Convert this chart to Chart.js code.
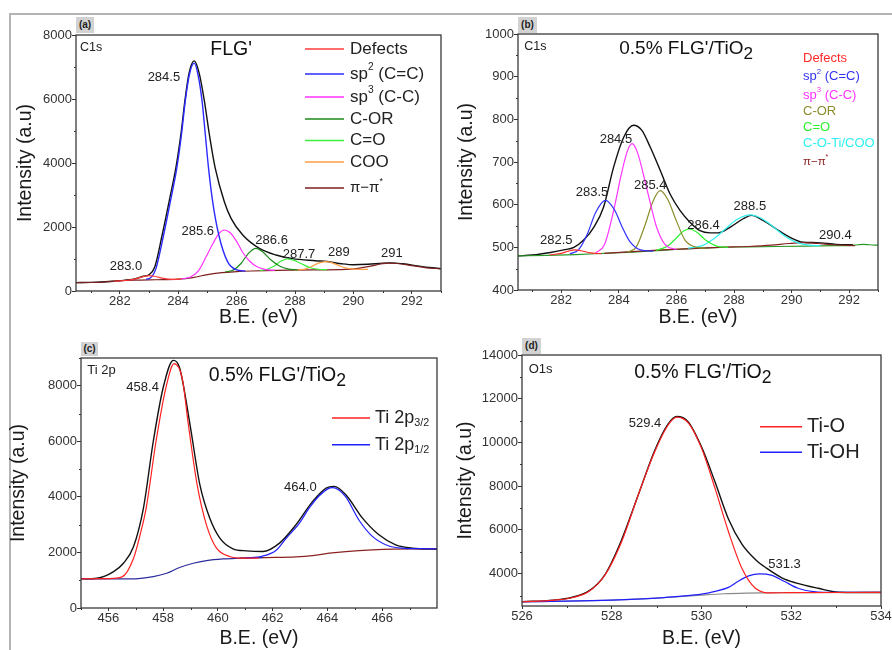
<!DOCTYPE html>
<html>
<head>
<meta charset="utf-8">
<script src="https://cdn.jsdelivr.net/npm/chart.js@4.4.1/dist/chart.umd.min.js"></script>
<style>
  body { margin: 0; background: #fff; width: 892px; height: 650px; overflow: hidden; position: relative; }
  canvas { position: absolute; }
  .frame { position: absolute; left: 9px; top: 13px; width: 900px; height: 700px;
           border-top: 2px solid #b4b4b4; border-left: 2px solid #b4b4b4; }
  .tag { position: absolute; background: #d2d2d2; color: #222; text-align: center;
         font: bold 10px "Liberation Sans", Arial, sans-serif; line-height: 16px; z-index: 2; }
</style>
</head>
<body>
<div class="frame"></div>
<canvas id="ca" width="446" height="330" style="left:0;top:0"></canvas>
<canvas id="cb" width="446" height="330" style="left:446px;top:0"></canvas>
<canvas id="cc" width="446" height="320" style="left:0;top:330px"></canvas>
<canvas id="cd" width="446" height="320" style="left:446px;top:330px"></canvas>
<div class="tag" style="left:76px;top:17px;width:18px;height:16px">(a)</div>
<div class="tag" style="left:518px;top:17px;width:19px;height:16px">(b)</div>
<div class="tag" style="left:81px;top:342px;width:17px;height:14px;line-height:14px">(c)</div>
<div class="tag" style="left:522px;top:338px;width:19px;height:16px">(d)</div>
<script>
// ---- ticks ----
const xTicksC1s = [282, 284, 286, 288, 290, 292];
const xMinorC1s = [281, 283, 285, 287, 289, 291, 293];
const yTicksA = [0, 2000, 4000, 6000, 8000];
const yMinorA = [1000, 3000, 5000, 7000];
const yTicksB = [400, 500, 600, 700, 800, 900, 1000];
const yMinorB = [450, 550, 650, 750, 850, 950];
const xTicksTi = [456, 458, 460, 462, 464, 466];
const xMinorTi = [455, 457, 459, 461, 463, 465, 467];
const yTicksC = [0, 2000, 4000, 6000, 8000];
const yMinorC = [1000, 3000, 5000, 7000, 9000];
const xTicksO = [526, 528, 530, 532, 534];
const xMinorO = [527, 529, 531, 533];
const yTicksD = [4000, 6000, 8000, 10000, 12000, 14000];
const yMinorD = [3000, 5000, 7000, 9000, 11000, 13000];

// ---- (a) C1s FLG' : [B.E., intensity] ----
const aDefects = [[281.8,305],[282.2,328],[282.5,370],[282.8,450],[283.0,480],[283.2,460],[283.5,395],[283.8,365],[284.1,380]];
const aSp2 = [[282.9,360],[283.1,450],[283.24,708],[283.5,1750],[283.73,2790],[283.95,3830],[284.11,4875],[284.24,5917],[284.38,6750],[284.55,7120],[284.68,6750],[284.82,5917],[284.93,4875],[285.04,3830],[285.18,2790],[285.39,1750],[285.69,917],[286.0,660],[286.3,625]];
const aSp3 = [[284.1,380],[284.4,430],[284.7,640],[284.95,1060],[285.2,1500],[285.4,1800],[285.58,1906],[285.78,1820],[286.0,1550],[286.2,1220],[286.45,930],[286.7,760],[287.0,670],[287.3,645]];
const aCOR = [[285.6,595],[285.9,660],[286.15,860],[286.4,1170],[286.66,1333],[286.9,1220],[287.15,990],[287.45,790],[287.75,690],[288.1,658]];
const aCO = [[286.8,640],[287.05,680],[287.3,790],[287.5,920],[287.72,1000],[287.95,965],[288.2,860],[288.5,735],[288.8,680],[289.1,665]];
const aCOO = [[288.0,653],[288.3,675],[288.55,760],[288.8,870],[289.03,918],[289.28,880],[289.55,775],[289.85,700],[290.2,676],[290.5,675]];
const aPi = [[280.5,260],[281,265],[281.5,285],[282,320],[282.5,340],[283,350],[283.5,355],[284,370],[284.5,420],[285,510],[285.5,575],[286,605],[286.5,625],[287,638],[288,652],[289,662],[289.5,668],[290,690],[290.5,760],[291,855],[291.2,872],[291.5,860],[292,795],[292.5,725],[293,695]];
const aEnvelope = [[280.5,262],[281,268],[281.5,288],[282,322],[282.5,375],[282.8,460],[283.0,510],[283.2,760],[283.45,1750],[283.7,2850],[283.93,3900],[284.1,4950],[284.23,5950],[284.37,6800],[284.55,7190],[284.72,6800],[284.9,5917],[285.07,4875],[285.27,3830],[285.58,2790],[285.81,2270],[286.21,1750],[286.78,1333],[287.35,1125],[287.9,1010],[288.7,945],[289.1,920],[289.6,850],[290.0,820],[290.5,835],[291.0,870],[291.3,880],[291.7,850],[292.2,785],[292.6,735],[293,700]];

// ---- (b) C1s 0.5% FLG'/TiO2 ----
const bDefects = [[281.6,482],[282.0,486],[282.25,491],[282.45,494],[282.7,492],[283.0,487],[283.4,485]];
const bSp2 = [[282.3,485],[282.6,494],[282.9,530],[283.2,582],[283.53,610],[283.85,588],[284.1,550],[284.4,512],[284.75,494],[285.2,491]];
const bSp3 = [[283.2,487],[283.5,506],[283.8,580],[284.1,675],[284.3,726],[284.46,743],[284.65,722],[285.0,630],[285.3,550],[285.6,507],[286.0,495]];
const bCOR = [[284.3,489],[284.6,500],[284.9,550],[285.2,610],[285.44,633],[285.7,612],[286.0,562],[286.3,517],[286.7,500],[287.0,498]];
const bCO = [[285.3,493],[285.7,503],[286.0,522],[286.25,538],[286.44,543],[286.7,536],[287.0,518],[287.4,503],[287.8,500]];
const bCOTi = [[286.4,498],[286.9,504],[287.3,520],[287.7,543],[288.1,565],[288.55,576],[289.0,566],[289.4,546],[289.8,525],[290.2,511],[290.6,505],[291.0,504]];
const bPi = [[283.5,486],[285.5,494],[287.5,500],[288.5,502],[289.3,505],[289.9,509],[290.4,511],[290.9,509],[291.5,506],[292.2,504]];
const bBackground = [[280.5,480],[281.5,481],[282.5,483],[283.5,486],[284.5,489],[285.5,493],[286.5,497],[287.5,500],[288.5,501],[289.5,502],[290.5,503],[291.5,504],[292,504],[292.3,506],[292.5,507],[292.7,506],[293,505]];
const bEnvelope = [[280.5,480],[281.0,482],[281.63,488],[282.09,494],[282.44,500],[282.78,517],[283.13,547],[283.47,594],[283.82,688],[284.17,758],[284.51,786],[284.8,774],[285.09,735],[285.44,680],[285.78,625],[286.13,586],[286.47,559],[286.82,539],[287.17,534],[287.46,534],[287.86,547],[288.32,567],[288.61,575],[289.01,563],[289.47,543],[289.93,524],[290.4,512],[290.86,511],[291.55,507],[292.13,506]];

// ---- (c) Ti 2p ----
const cTi32 = [[455,1050],[456,1058],[456.5,1120],[456.92,1792],[457.15,2600],[457.38,3597],[457.74,6003],[458.1,7928],[458.4,8794],[458.7,8250],[458.92,6605],[459.24,4439],[459.58,2995],[459.95,2153],[460.43,1853],[460.9,1792],[461.5,1800]];
const cTi12 = [[461.0,1800],[461.6,1860],[462.13,2080],[462.5,2520],[462.97,3050],[463.35,3620],[463.7,4040],[464.0,4280],[464.19,4330],[464.4,4260],[464.67,4000],[465.16,3150],[465.64,2580],[466.25,2230],[466.8,2150],[467.4,2135],[468,2130]];
const cBgLow = [[455,1047],[456.8,1047],[457.64,1131],[458.13,1251],[458.6,1456],[459.1,1612],[459.58,1708],[460.19,1768],[460.8,1792],[461.64,1816]];
const cBgHigh = [[460.8,1792],[461.64,1816],[462.85,1840],[463.46,1888],[464.07,1973],[464.67,2033],[465.64,2093],[467.1,2129],[468,2129]];
const cEnvelope = [[455,1047],[455.58,1071],[456.19,1311],[456.55,1612],[456.92,2213],[457.28,3597],[457.64,6003],[458.0,7928],[458.37,8914],[458.6,8650],[458.98,6605],[459.34,4439],[459.7,3236],[460.07,2514],[460.55,2129],[461.04,2057],[461.64,2033],[462.25,2334],[462.85,2995],[463.46,3838],[463.95,4319],[464.25,4379],[464.67,4078],[465.28,3236],[465.88,2635],[466.49,2274],[467.1,2153],[468,2117]];

// ---- (d) O1s ----
const dTiO = [[526,2715],[526.74,2790],[527.11,2897],[527.48,3170],[527.85,3937],[528.22,5460],[528.59,7600],[528.96,9590],[529.26,10810],[529.45,11160],[529.71,10885],[530.0,9740],[530.3,7910],[530.6,5925],[530.9,4245],[531.2,3330],[531.56,3120],[531.94,3130],[534,3140]];
const dTiOH = [[526,2715],[527,2740],[528,2790],[529,2880],[529.5,2960],[530.0,3060],[530.3,3190],[530.6,3370],[530.8,3630],[531.05,3900],[531.3,3990],[531.55,3930],[531.85,3640],[532.15,3330],[532.5,3180],[533.0,3140],[534,3140]];
const dBackground = [[526,2715],[527,2740],[528,2790],[529,2880],[529.5,2950],[530,3020],[530.5,3080],[531,3110],[532,3130],[534,3140]];
const dEnvelope = [[526,2715],[526.7,2790],[527.1,2910],[527.5,3220],[527.85,3960],[528.2,5450],[528.6,7650],[528.95,9600],[529.25,10830],[529.45,11190],[529.7,10950],[530.0,9800],[530.3,8200],[530.6,6500],[530.9,5350],[531.2,4650],[531.45,4250],[531.8,3800],[532.1,3580],[532.6,3330],[533.05,3150],[533.5,3140],[534,3140]];

const FAMILY = '"Liberation Sans", Arial, sans-serif';

function line(label, arr, color, width) {
  return {
    label: label,
    data: arr.map(p => ({ x: p[0], y: p[1] })),
    borderColor: color,
    borderWidth: width || 1.2,
    pointRadius: 0,
    fill: false,
    cubicInterpolationMode: 'monotone'
  };
}

// text with ^{sup} and _{sub}
function drawRich(ctx, str, x, y, size, color, align, subScale) {
  const parts = [];
  const re = /([\^_])\{([^}]*)\}/g;
  let last = 0, m;
  while ((m = re.exec(str))) {
    if (m.index > last) parts.push({ t: str.slice(last, m.index), k: '' });
    parts.push({ t: m[2], k: m[1] });
    last = re.lastIndex;
  }
  if (last < str.length) parts.push({ t: str.slice(last), k: '' });
  const fontFor = k => {
    const s = k === '^' ? size * 0.6 : k === '_' ? size * (subScale || 0.65) : size;
    return s.toFixed(1) + 'px ' + FAMILY;
  };
  let w = 0;
  parts.forEach(p => { ctx.font = fontFor(p.k); p.w = ctx.measureText(p.t).width; w += p.w; });
  let cx = align === 'center' ? x - w / 2 : x;
  ctx.fillStyle = color;
  ctx.textBaseline = 'middle';
  ctx.textAlign = 'left';
  parts.forEach(p => {
    ctx.font = fontFor(p.k);
    const dy = p.k === '^' ? -size * 0.4 : p.k === '_' ? size * 0.3 : 0;
    ctx.fillText(p.t, cx, y + dy);
    cx += p.w;
  });
}

function decor(cfg) {
  return {
    id: 'decor',
    afterDraw(chart) {
      const { ctx, chartArea: a, scales: { x, y } } = chart;
      ctx.save();
      // minor ticks
      ctx.strokeStyle = '#333';
      ctx.lineWidth = 1;
      cfg.xMinor.forEach(v => {
        const px = Math.round(x.getPixelForValue(v)) + 0.5;
        ctx.beginPath(); ctx.moveTo(px, a.bottom); ctx.lineTo(px, a.bottom + 2); ctx.stroke();
      });
      cfg.yMinor.forEach(v => {
        const py = Math.round(y.getPixelForValue(v)) + 0.5;
        ctx.beginPath(); ctx.moveTo(a.left, py); ctx.lineTo(a.left - 2, py); ctx.stroke();
      });
      // frame
      ctx.lineWidth = 1.3;
      ctx.strokeStyle = '#3a3a3a';
      ctx.strokeRect(a.left, a.top, a.right - a.left, a.bottom - a.top);
      // notes (data coords)
      cfg.notes.forEach(n => {
        drawRich(ctx, n.text, x.getPixelForValue(n.x), y.getPixelForValue(n.y),
          n.size || 13, n.color || '#222', n.align || 'center', n.sub);
      });
      // legend
      const L = cfg.legend;
      L.items.forEach((it, i) => {
        const yy = a.top + L.rows[i];
        if (L.line) {
          ctx.strokeStyle = it.color;
          ctx.lineWidth = 1.6;
          ctx.beginPath(); ctx.moveTo(a.left + L.x0, yy); ctx.lineTo(a.left + L.x1, yy); ctx.stroke();
        }
        drawRich(ctx, it.text, a.left + L.tx, yy, it.size || L.size,
          L.line ? '#222' : it.color, 'left', L.sub);
      });
      ctx.restore();
    }
  };
}

function makeChart(id, cfg) {
  const tickFont = { size: 13, family: FAMILY };
  const titleFont = { size: 19.5, family: FAMILY };
  new Chart(document.getElementById(id), {
    type: 'line',
    data: { datasets: cfg.datasets },
    options: {
      responsive: false,
      animation: false,
      layout: { padding: cfg.pad },
      plugins: { legend: { display: false }, tooltip: { enabled: false } },
      scales: {
        x: {
          type: 'linear', min: cfg.xMin, max: cfg.xMax,
          afterBuildTicks: s => { s.ticks = cfg.xTicks.map(v => ({ value: v })); },
          afterFit: s => { s.height = cfg.xH; s.paddingLeft = 0; s.paddingRight = 0; },
          grid: { drawOnChartArea: false, tickLength: 3, color: '#333' },
          border: { display: false },
          ticks: { padding: 0, color: '#333', font: tickFont, maxRotation: 0, autoSkip: false, callback: v => String(v) },
          title: { display: true, text: 'B.E. (eV)', color: '#1a1a1a', font: titleFont, padding: { top: 0, bottom: cfg.xTitlePad } }
        },
        y: {
          min: cfg.yMin, max: cfg.yMax,
          afterBuildTicks: s => { s.ticks = cfg.yTicks.map(v => ({ value: v })); },
          afterFit: s => { s.width = cfg.yW; s.paddingTop = 0; s.paddingBottom = 0; },
          grid: { drawOnChartArea: false, tickLength: 4, color: '#333' },
          border: { display: false },
          ticks: { padding: 0, color: '#333', font: tickFont, autoSkip: false, callback: v => String(v) },
          title: { display: true, text: 'Intensity (a.u)', color: '#1a1a1a', font: titleFont, padding: { top: cfg.yTitlePad, bottom: 0 } }
        }
      }
    },
    plugins: [decor(cfg)]
  });
}

// (a)
makeChart('ca', {
  datasets: [
    line('Defects', aDefects, '#ff3b3b'),
    line('sp2 (C=C)', aSp2, '#2b2bff', 1.4),
    line('sp3 (C-C)', aSp3, '#ff33ff'),
    line('C-OR', aCOR, '#1d8a1d'),
    line('C=O', aCO, '#3cf03c'),
    line('COO', aCOO, '#ff9e45'),
    line('π−π*', aPi, '#7d1f1f'),
    line('Envelope', aEnvelope, '#111', 1.4)
  ],
  pad: { left: 0, top: 35, right: 5, bottom: 0 },
  xMin: 280.5, xMax: 293, xTicks: xTicksC1s, xMinor: xMinorC1s,
  yMin: 0, yMax: 8000, yTicks: yTicksA, yMinor: yMinorA,
  yW: 76, xH: 39, yTitlePad: 14, xTitlePad: 0.5,
  notes: [
    { x: 280.64, y: 7600, text: 'C1s', align: 'left', size: 12.5 },
    { x: 285.81, y: 7531, text: "FLG'", size: 19.5, color: '#111' },
    { x: 283.51, y: 6666, text: '284.5' },
    { x: 284.67, y: 1875, text: '285.6' },
    { x: 287.2, y: 1594, text: '286.6' },
    { x: 288.14, y: 1156, text: '287.7' },
    { x: 289.5, y: 1209, text: '289' },
    { x: 291.32, y: 1178, text: '291' },
    { x: 282.21, y: 781, text: '283.0' }
  ],
  legend: {
    line: true, x0: 229, x1: 268, tx: 274, size: 17,
    rows: [14, 39, 62, 84, 105.5, 127, 153],
    items: [
      { text: 'Defects', color: '#ff3b3b' },
      { text: 'sp^{2} (C=C)', color: '#2b2bff' },
      { text: 'sp^{3} (C-C)', color: '#ff33ff' },
      { text: 'C-OR', color: '#1d8a1d' },
      { text: 'C=O', color: '#3cf03c' },
      { text: 'COO', color: '#ff9e45' },
      { text: 'π−π^{*}', color: '#7d1f1f', size: 15 }
    ]
  }
});

// (b)
makeChart('cb', {
  datasets: [
    line('Defects', bDefects, '#ff2a2a'),
    line('sp2 (C=C)', bSp2, '#2f2fff'),
    line('sp3 (C-C)', bSp3, '#ff33ff'),
    line('C-OR', bCOR, '#8c8c2c'),
    line('C=O', bCO, '#2ef02e'),
    line('C-O-Ti/COO', bCOTi, '#2ef0f0'),
    line('π−π*', bPi, '#8b2222'),
    line('Background', bBackground, '#2a992a'),
    line('Envelope', bEnvelope, '#111', 1.4)
  ],
  pad: { left: 0, top: 34, right: 14, bottom: 0 },
  xMin: 280.5, xMax: 293, xTicks: xTicksC1s, xMinor: xMinorC1s,
  yMin: 400, yMax: 1000, yTicks: yTicksB, yMinor: yMinorB,
  yW: 72, xH: 40, yTitlePad: 9, xTitlePad: 0.5,
  notes: [
    { x: 280.72, y: 971, text: 'C1s', align: 'left', size: 12.5 },
    { x: 286.34, y: 965, text: "0.5% FLG'/TiO_{2}", size: 19, color: '#111', sub: 0.9 },
    { x: 283.9, y: 752, text: '284.5' },
    { x: 283.07, y: 627.6, text: '283.5' },
    { x: 285.09, y: 644.7, text: '285.4' },
    { x: 286.94, y: 552.5, text: '286.4' },
    { x: 288.55, y: 595.5, text: '288.5' },
    { x: 291.52, y: 529, text: '290.4' },
    { x: 281.83, y: 517.3, text: '282.5' }
  ],
  legend: {
    line: false, tx: 285, size: 13,
    rows: [24.3, 42.7, 61, 77.3, 93.3, 109.3, 127.7],
    items: [
      { text: 'Defects', color: '#ff2a2a' },
      { text: 'sp^{2} (C=C)', color: '#3333ee' },
      { text: 'sp^{3} (C-C)', color: '#ff33ff' },
      { text: 'C-OR', color: '#8c8c2c' },
      { text: 'C=O', color: '#2ef02e' },
      { text: 'C-O-Ti/COO', color: '#2ef0f0' },
      { text: 'π−π^{*}', color: '#8b2222', size: 11.5 }
    ]
  }
});

// (c)
makeChart('cc', {
  datasets: [
    line('Ti 2p3/2', cTi32, '#ff2020'),
    line('Ti 2p1/2', cTi12, '#2020ff'),
    line('Background', cBgLow, '#2c2c9c'),
    line('Background', cBgHigh, '#8c2222'),
    line('Envelope', cEnvelope, '#111', 1.4)
  ],
  pad: { left: 0, top: 28, right: 9, bottom: 0 },
  xMin: 455, xMax: 468, xTicks: xTicksTi, xMinor: xMinorTi,
  yMin: 0, yMax: 9000, yTicks: yTicksC, yMinor: yMinorC,
  yW: 81, xH: 42, yTitlePad: 7, xTitlePad: 0,
  notes: [
    { x: 455.23, y: 8556, text: 'Ti 2p', align: 'left', size: 13 },
    { x: 462.17, y: 8364, text: "0.5% FLG'/TiO_{2}", size: 19.5, color: '#111', sub: 0.9 },
    { x: 457.25, y: 7956, text: '458.4' },
    { x: 463.01, y: 4357, text: '464.0' }
  ],
  legend: {
    line: true, x0: 251, x1: 289, tx: 294, size: 18, sub: 0.6,
    rows: [60, 86.7],
    items: [
      { text: 'Ti 2p_{3/2}', color: '#ff2020' },
      { text: 'Ti 2p_{1/2}', color: '#2020ff' }
    ]
  }
});

// (d)
makeChart('cd', {
  datasets: [
    line('Ti-O', dTiO, '#ff2020'),
    line('Ti-OH', dTiOH, '#2020ff'),
    line('Background', dBackground, '#8a8a8a'),
    line('Envelope', dEnvelope, '#111', 1.4)
  ],
  pad: { left: 0, top: 25, right: 11, bottom: 0 },
  xMin: 526, xMax: 534, xTicks: xTicksO, xMinor: xMinorO,
  yMin: 2520, yMax: 14000, yTicks: yTicksD, yMinor: yMinorD,
  yW: 76, xH: 44, yTitlePad: 8, xTitlePad: 0,
  notes: [
    { x: 526.15, y: 13327, text: 'O1s', align: 'left', size: 13 },
    { x: 530.03, y: 13190, text: "0.5% FLG'/TiO_{2}", size: 19.5, color: '#111', sub: 0.9 },
    { x: 528.74, y: 10856, text: '529.4' },
    { x: 531.85, y: 4434, text: '531.3' }
  ],
  legend: {
    line: true, x0: 238, x1: 280, tx: 285, size: 20,
    rows: [71.7, 97.3],
    items: [
      { text: 'Ti-O', color: '#ff2020' },
      { text: 'Ti-OH', color: '#2020ff' }
    ]
  }
});
</script>
</body>
</html>
